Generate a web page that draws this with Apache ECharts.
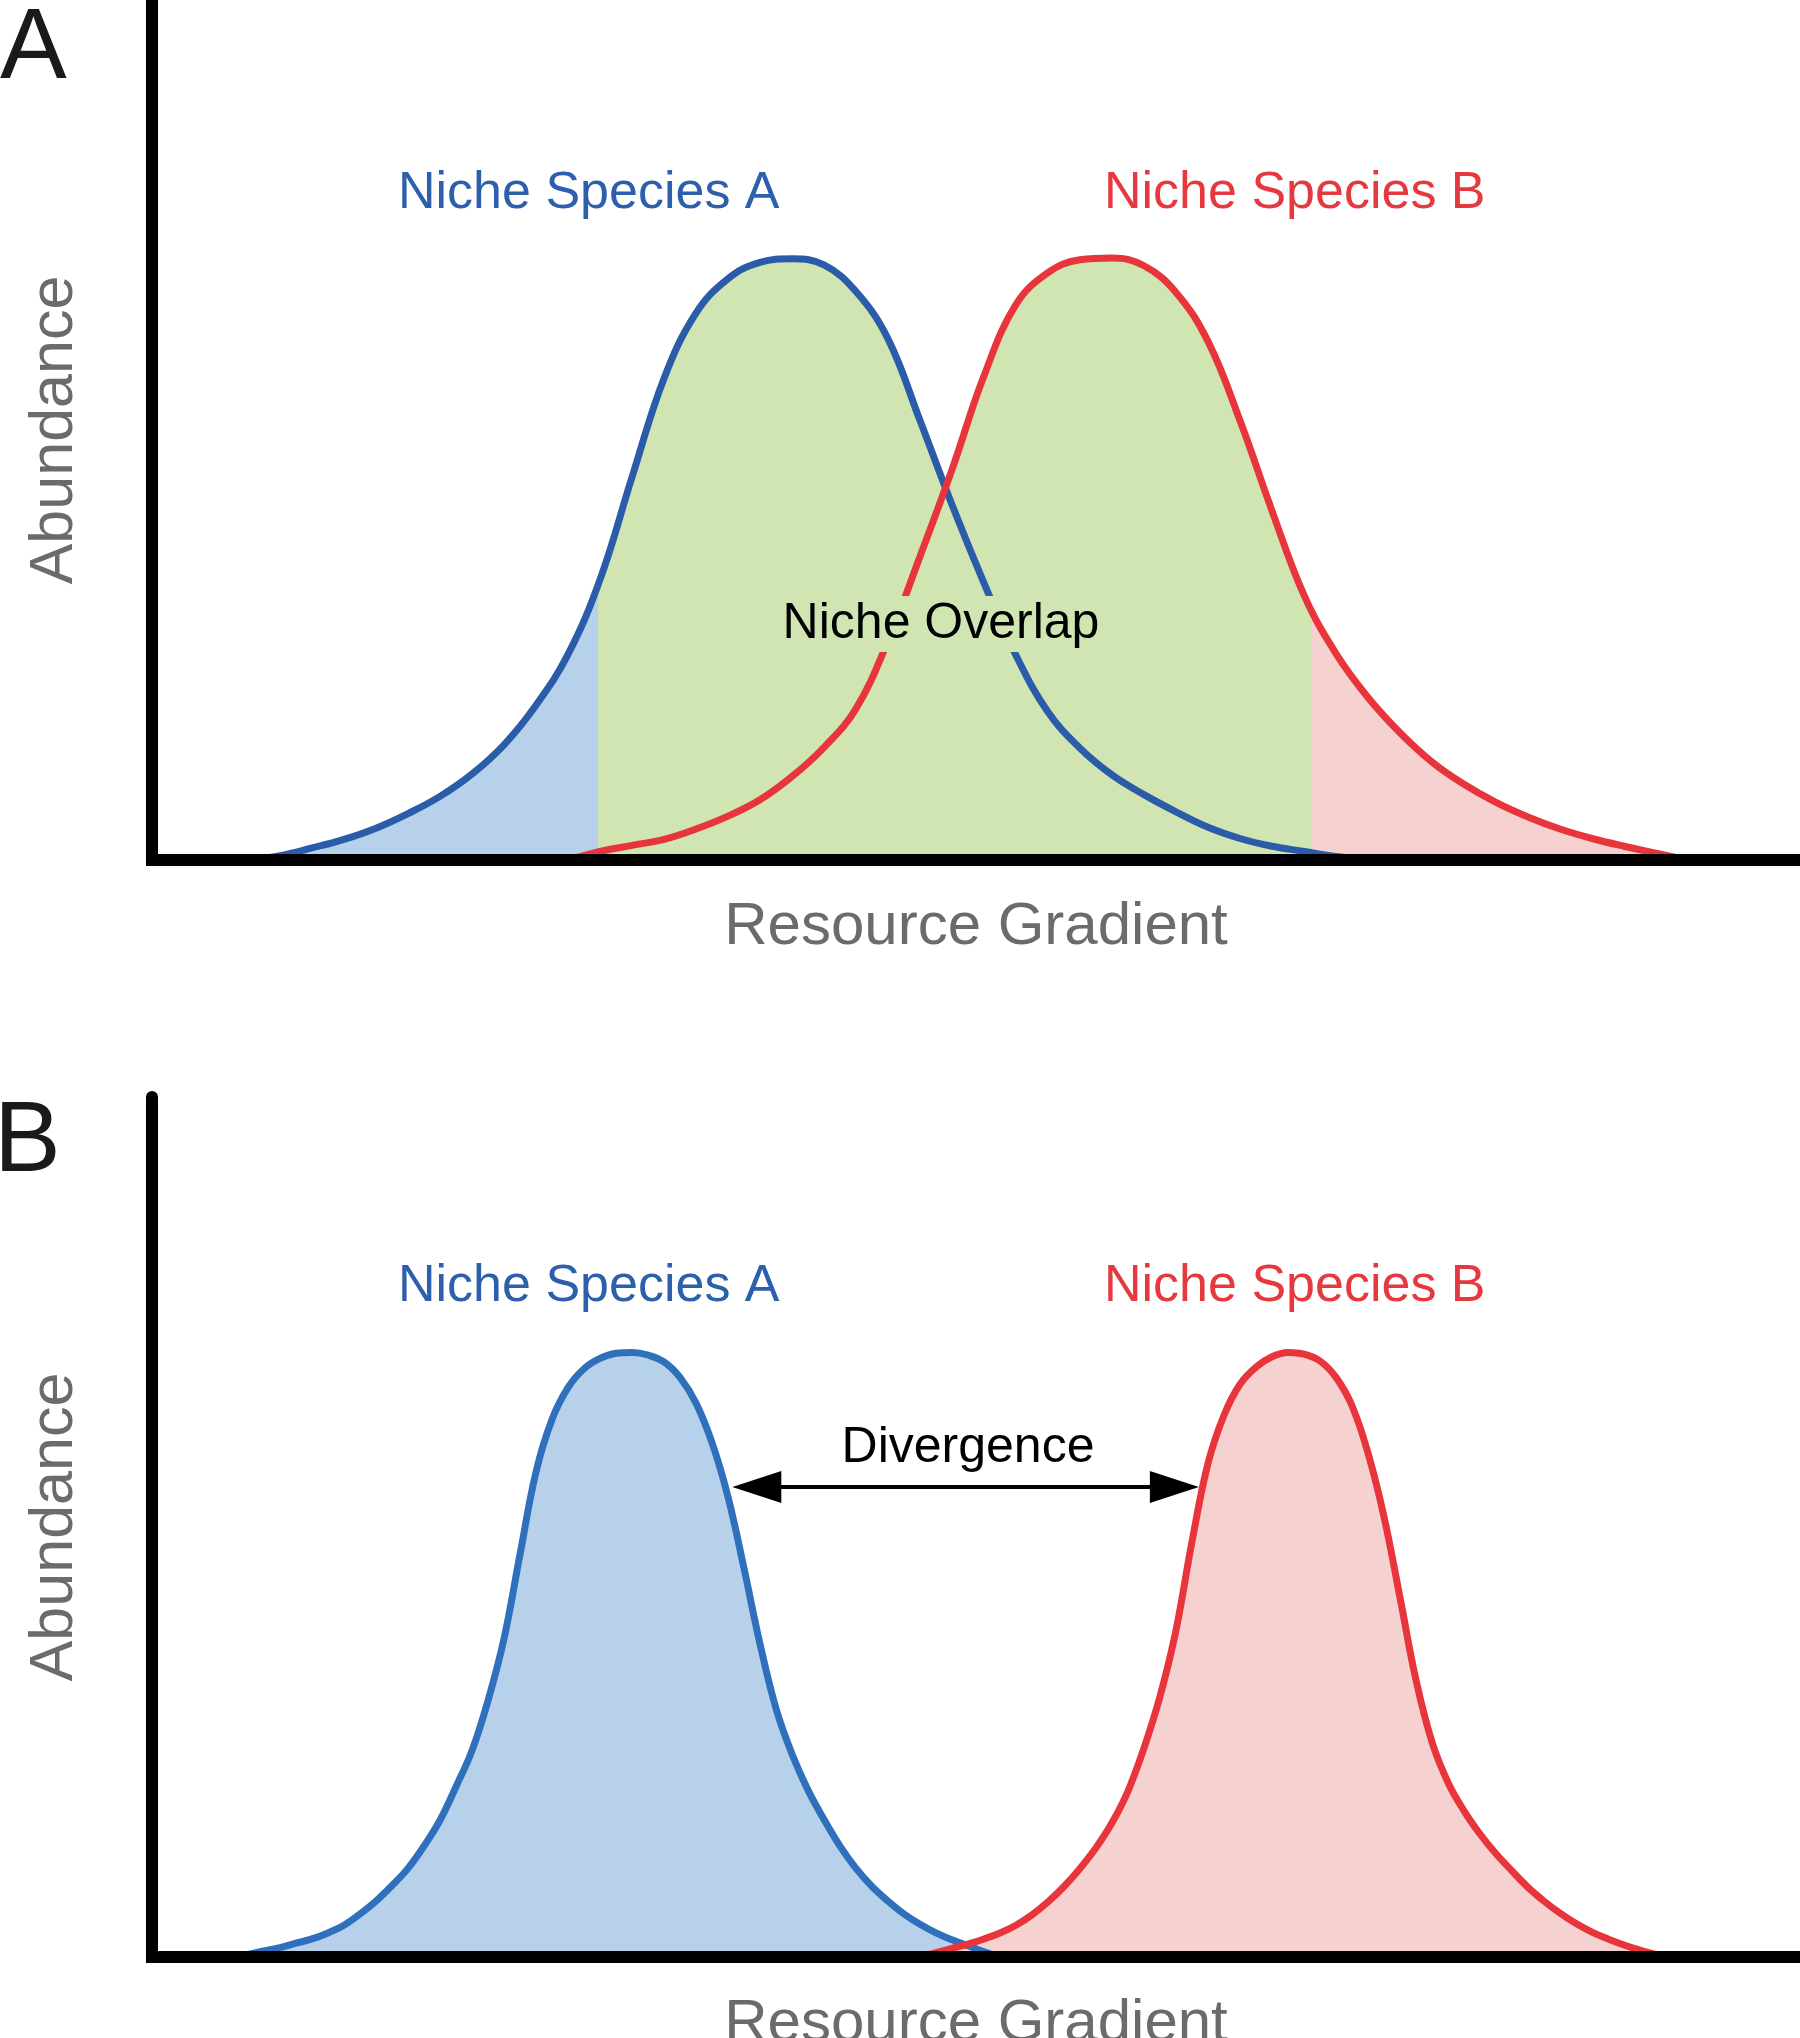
<!DOCTYPE html>
<html>
<head>
<meta charset="utf-8">
<title>Niche overlap and divergence</title>
<script src="https://cdn.jsdelivr.net/npm/echarts@6/dist/echarts.min.js"></script>
<style>
  html, body { margin: 0; padding: 0; background: #fff; }
  #chart { width: 1800px; height: 2038px; }
</style>
</head>
<body>
<div id="chart"></div>
<script>
// panel A: overlapping niches, points are [resource, abundance]
var overlapA = [
    [6, 0], [8, 0.5], [10, 1.4], [12, 2.4], [14, 3.7], [16, 5.4], [18, 7.4], [20, 10.0],
    [22, 13.4], [24, 18.0], [26, 23.9], [28, 32.6], [30, 44.5], [32, 56.0], [34, 63.6],
    [36, 67.6], [38, 69.5], [40, 69.9], [42, 69.2], [44, 66.1], [46, 60.6], [48, 51.1],
    [50, 41.3], [52, 32.2], [54, 23.8], [56, 17.2], [58, 13.0], [60, 9.9], [62, 7.6],
    [64, 5.6], [66, 3.8], [68, 2.5], [70, 1.6], [72, 1.0], [74, 0.4], [76, 0]
];
var overlapB = [
    [26, 0], [28, 1.0], [30, 1.7], [32, 2.4], [34, 3.6], [36, 5.1], [38, 7.0], [40, 9.7],
    [42, 13.1], [44, 17.6], [46, 25.5], [48, 35.3], [50, 45.4], [52, 56.3], [54, 64.6],
    [56, 68.3], [58, 69.8], [60, 70.0], [62, 69.1], [64, 66.0], [66, 60.3], [68, 51.1],
    [70, 40.6], [72, 30.8], [74, 24.0], [76, 18.9], [78, 14.8], [80, 11.4], [82, 8.8],
    [84, 6.7], [86, 5.0], [88, 3.6], [90, 2.5], [92, 1.6], [94, 0.8], [96, 0]
];

// panel B: diverged niches
var divergedA = [
    [5, 0], [6, 0.3], [7, 0.7], [8, 1.1], [9, 1.6], [10, 2.1], [11, 2.8], [12, 3.7],
    [13, 5.0], [14, 6.5], [15, 8.3], [16, 10.3], [17, 12.9], [18, 15.9], [19, 19.8],
    [20, 24.0], [21, 29.8], [22, 37.0], [23, 46.8], [24, 56.4], [25, 62.5], [26, 66.2],
    [27, 68.4], [28, 69.6], [29, 70.2], [30, 70.3], [31, 70.0], [32, 69.2], [33, 67.4],
    [34, 64.4], [35, 59.8], [36, 53.5], [37, 45.2], [38, 36.4], [39, 28.9], [40, 23.6],
    [41, 19.4], [42, 16.0], [43, 12.9], [44, 10.3], [45, 8.2], [46, 6.5], [47, 5.0],
    [48, 3.8], [49, 2.8], [50, 2.0], [51, 1.3], [52, 0.6], [53, 0]
];
var divergedB = [
    [48, 0], [49, 0.5], [50, 1.0], [51, 1.5], [52, 2.1], [53, 2.8], [54, 3.7], [55, 4.9],
    [56, 6.4], [57, 8.2], [58, 10.3], [59, 12.7], [60, 15.6], [61, 19.3], [62, 24.3],
    [63, 30.3], [64, 38.0], [65, 48.3], [66, 57.4], [67, 63.0], [68, 66.6], [69, 68.6],
    [70, 69.8], [71, 70.3], [72, 70.1], [73, 69.3], [74, 67.4], [75, 64.1], [76, 58.6],
    [77, 51.2], [78, 41.8], [79, 32.2], [80, 25.0], [81, 20.3], [82, 17.0], [83, 14.3],
    [84, 12.0], [85, 10.0], [86, 8.1], [87, 6.5], [88, 5.1], [89, 3.9], [90, 2.9],
    [91, 2.1], [92, 1.4], [93, 0.8], [94, 0.3], [95, 0]
];

// resource axis extent, and the range shaded as overlap in panel A
var resourceMax = 103;
var overlapRange = [27.9, 72.5];
// divergence arrow in panel B: x of the two heads, abundance level
var divergenceX = [37.8, 63.9];
var divergenceY = 54.65;

var FONT = '"Liberation Sans", Arial, Helvetica, sans-serif';
var GREY = '#6b6b6b';
var BLUE_LINE_A = '#2b5ca9';
var BLUE_LINE_B = '#2f70bd';
var RED_LINE = '#e8353b';
var BLUE_FILL = '#b7d1eb';
var GREEN_FILL = '#d0e5b2';
var RED_FILL = '#f5d1d0';
var BLUE_TEXT = '#2c5fac';
var RED_TEXT = '#e5393f';

var chart = echarts.init(document.getElementById('chart'));

function xAxisFor(grid) {
    return {
        gridIndex: grid,
        type: 'value',
        min: 0,
        max: resourceMax,
        z: 10,
        name: 'Resource Gradient',
        nameLocation: 'middle',
        nameGap: 37,
        nameTextStyle: { fontSize: 60, color: GREY, fontFamily: FONT },
        axisLine: { show: true, onZero: false, lineStyle: { color: '#000', width: 12, cap: 'square' } },
        axisTick: { show: false },
        axisLabel: { show: false },
        splitLine: { show: false }
    };
}

function yAxisFor(grid) {
    return {
        gridIndex: grid,
        type: 'value',
        min: 0,
        max: 100,
        z: 10,
        name: 'Abundance',
        nameLocation: 'middle',
        nameRotate: 90,
        nameGap: 66,
        nameTextStyle: { fontSize: 61, color: GREY, fontFamily: FONT },
        axisLine: { show: true, onZero: false, lineStyle: { color: '#000', width: 12 } },
        axisTick: { show: false },
        axisLabel: { show: false },
        splitLine: { show: false }
    };
}

// filled area only, colour comes from the visualMap pieces
function areaSeries(data, grid) {
    return {
        type: 'line',
        data: data,
        xAxisIndex: grid,
        yAxisIndex: grid,
        smooth: 0.4,
        symbol: 'none',
        silent: true,
        lineStyle: { width: 0, opacity: 0 },
        areaStyle: { opacity: 1 },
        z: 1
    };
}

function curveSeries(data, grid, color, fill) {
    var s = {
        type: 'line',
        data: data,
        xAxisIndex: grid,
        yAxisIndex: grid,
        smooth: 0.4,
        symbol: 'none',
        silent: true,
        itemStyle: { color: color },
        lineStyle: { color: color, width: 7 },
        z: 3
    };
    if (fill) {
        s.areaStyle = { color: fill, opacity: 1 };
    }
    return s;
}

function label(text, x, y, size, color, align, extra) {
    var style = {
        text: text,
        fill: color,
        fontSize: size,
        fontFamily: FONT,
        align: align,
        verticalAlign: 'middle'
    };
    for (var k in extra) style[k] = extra[k];
    return { type: 'text', x: x, y: y, z: 100, silent: true, style: style };
}

var divergedBSeries = curveSeries(divergedB, 1, RED_LINE, RED_FILL);
var divergedASeries = curveSeries(divergedA, 1, BLUE_LINE_B, BLUE_FILL);
divergedASeries.markLine = {
    silent: true,
    animation: false,
    symbol: ['triangle', 'triangle'],
    symbolSize: [32, 49],
    label: { show: false },
    lineStyle: { color: '#000', width: 4, type: 'solid' },
    itemStyle: { color: '#000' },
    data: [[
        { coord: [divergenceX[0], divergenceY] },
        { coord: [divergenceX[1], divergenceY] }
    ]]
};

var option = {
    animation: false,
    backgroundColor: '#fff',
    grid: [
        { left: 152, right: 0, top: 0, height: 860, outerBoundsMode: 'none' },
        { left: 152, right: 0, top: 1097, height: 860, outerBoundsMode: 'none' }
    ],
    xAxis: [xAxisFor(0), xAxisFor(1)],
    yAxis: [yAxisFor(0), yAxisFor(1)],
    visualMap: [
        {
            type: 'piecewise', show: false, seriesIndex: 0, dimension: 0,
            pieces: [
                { gte: 0, lt: overlapRange[0], color: BLUE_FILL },
                { gte: overlapRange[0], lte: resourceMax, color: GREEN_FILL }
            ]
        },
        {
            type: 'piecewise', show: false, seriesIndex: 1, dimension: 0,
            pieces: [
                { gte: 0, lt: overlapRange[1], color: GREEN_FILL },
                { gte: overlapRange[1], lte: resourceMax, color: RED_FILL }
            ]
        }
    ],
    series: [
        areaSeries(overlapA, 0),
        areaSeries(overlapB, 0),
        curveSeries(overlapA, 0, BLUE_LINE_A),
        curveSeries(overlapB, 0, RED_LINE),
        divergedASeries,
        divergedBSeries
    ],
    graphic: [
        label('A', 0, 50, 100, '#1a1a1a', 'left'),
        label('B', -6, 1143, 100, '#1a1a1a', 'left'),
        label('Niche Species A', 398, 194, 52, BLUE_TEXT, 'left'),
        label('Niche Species B', 1104, 194, 52, RED_TEXT, 'left'),
        label('Niche Overlap', 941, 624, 50, '#000', 'center',
            { backgroundColor: GREEN_FILL, padding: [3, 4] }),
        label('Niche Species A', 398, 1287, 52, BLUE_TEXT, 'left'),
        label('Niche Species B', 1104, 1287, 52, RED_TEXT, 'left'),
        label('Divergence', 968, 1448, 50, '#000', 'center')
    ]
};

chart.setOption(option);
</script>
</body>
</html>
